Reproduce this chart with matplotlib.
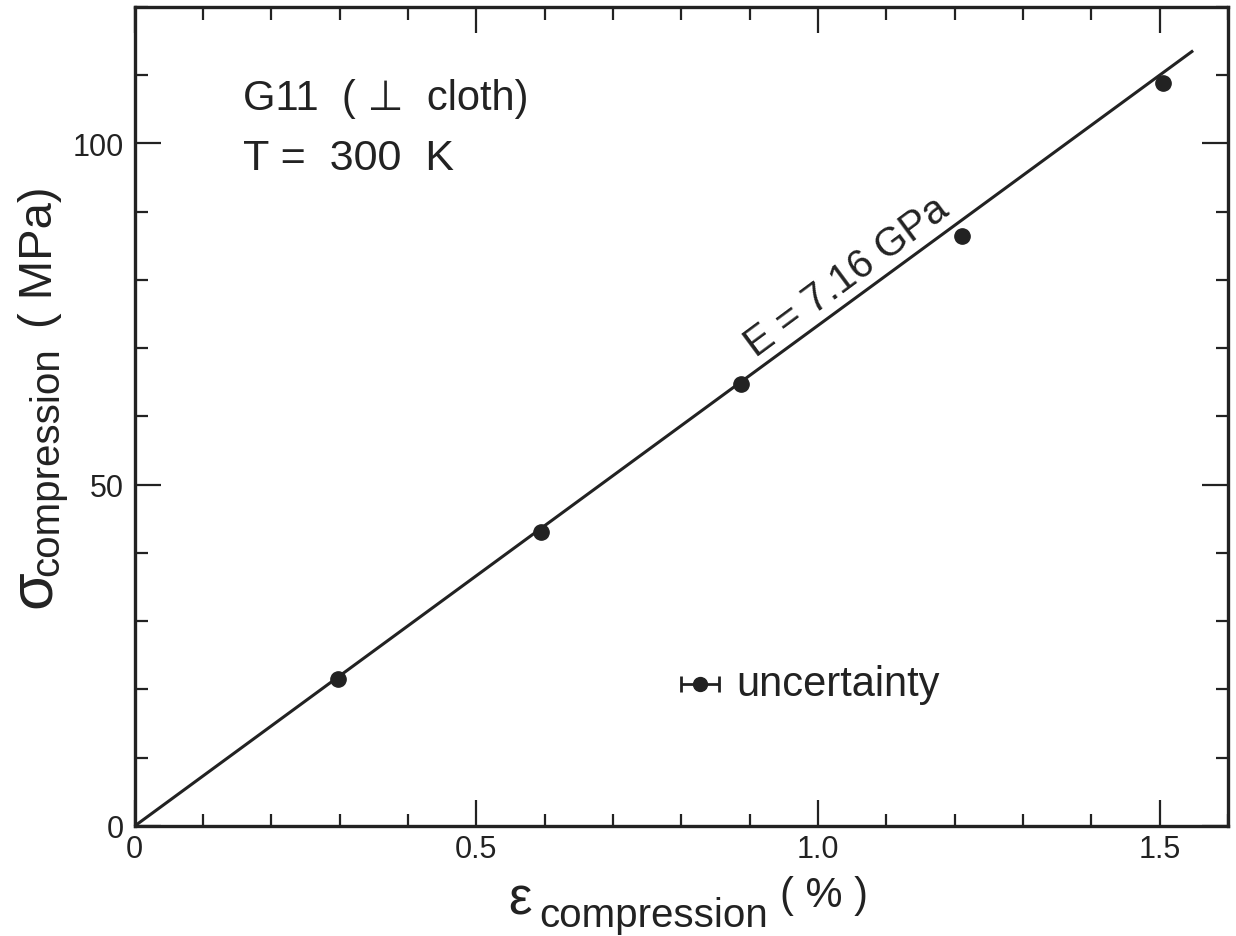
import matplotlib
matplotlib.use("Agg")
import matplotlib.pyplot as plt
from matplotlib.ticker import MultipleLocator, FixedLocator, FixedFormatter

# ---------------------------------------------------------------------------
# Data
# ---------------------------------------------------------------------------
strain_pct = [0.297, 0.594, 0.887, 1.211, 1.505]
stress_mpa = [21.6, 43.1, 64.7, 86.5, 108.8]

fit_x = [0.0, 1.549]
fit_y = [0.0, 113.6]

uncert_x = [0.827]
uncert_y = [20.8]
uncert_xerr = [0.028]

x_ticks = [0, 0.5, 1.0, 1.5]
x_tick_labels = ["0", "0.5", "1.0", "1.5"]
y_ticks = [0, 50, 100]
y_tick_labels = ["0", "50", "100"]

INK = "#222222"
W, H = 1236, 937

plt.rcParams["font.family"] = ["Liberation Sans", "DejaVu Sans"]

fig = plt.figure(figsize=(W / 100, H / 100), dpi=100)
ax = fig.add_axes([0.109, 0.1174, 0.8845, 0.8741])


def px_text(x, y, s, **kw):
    """Place figure text at pixel coords (origin top-left)."""
    return fig.text(x / W, 1 - y / H, s, color=INK, **kw)


ax.plot(fit_x, fit_y, color=INK, lw=2.2, solid_capstyle="butt")
ax.plot(strain_pct, stress_mpa, "o", color=INK, ms=11)
ax.errorbar(uncert_x, uncert_y, xerr=uncert_xerr, fmt="o", color=INK,
            ms=10, lw=2, capsize=6, capthick=2)

ax.set_xlim(0, 1.6)
ax.set_ylim(0, 120)

ax.xaxis.set_major_locator(FixedLocator(x_ticks))
ax.xaxis.set_major_formatter(FixedFormatter(x_tick_labels))
ax.xaxis.set_minor_locator(MultipleLocator(0.1))
ax.yaxis.set_major_locator(FixedLocator(y_ticks))
ax.yaxis.set_major_formatter(FixedFormatter(y_tick_labels))
ax.yaxis.set_minor_locator(MultipleLocator(10))

ax.tick_params(which="both", direction="in", top=True, right=True,
               colors=INK, labelsize=22, width=1.6)
ax.tick_params(which="major", length=19)
ax.tick_params(which="minor", length=9)
ax.tick_params(axis="x", pad=6)
ax.tick_params(axis="y", pad=8)

for sp in ax.spines.values():
    sp.set_linewidth(2.4)
    sp.set_color(INK)

# ---- x label: epsilon, lowered subscript, raised unit ---------------------
px_text(508, 915, "\u03b5", fontsize=38, ha="left", va="baseline")
px_text(539, 927, "compression", fontsize=29, ha="left", va="baseline")
px_text(780, 907, "( % )", fontsize=30, ha="left", va="baseline")

# ---- y label (rotated) ----------------------------------------------------
px_text(50, 608, "\u03c3", fontsize=44, ha="left", va="baseline",
        rotation=90, rotation_mode="anchor")
px_text(58, 576, "compression", fontsize=29, ha="left", va="baseline",
        rotation=90, rotation_mode="anchor")
px_text(52, 328, "( MPa)", fontsize=34, ha="left", va="baseline",
        rotation=90, rotation_mode="anchor")

# ---- annotations ------------------------------------------------------------
ax.text(0.158, 106.6, "G11  ( \u22a5  cloth)", fontsize=30, color=INK,
        va="center", ha="left")
ax.text(0.158, 97.8, "T =  300  K", fontsize=31, color=INK,
        va="center", ha="left")
ax.text(1.043, 80.6, "E = 7.16 GPa", fontsize=29, color=INK,
        va="center", ha="center", rotation=36.5)
ax.text(0.881, 20.8, "uncertainty", fontsize=30, color=INK,
        va="center", ha="left")

fig.savefig("out.png", dpi=100)
